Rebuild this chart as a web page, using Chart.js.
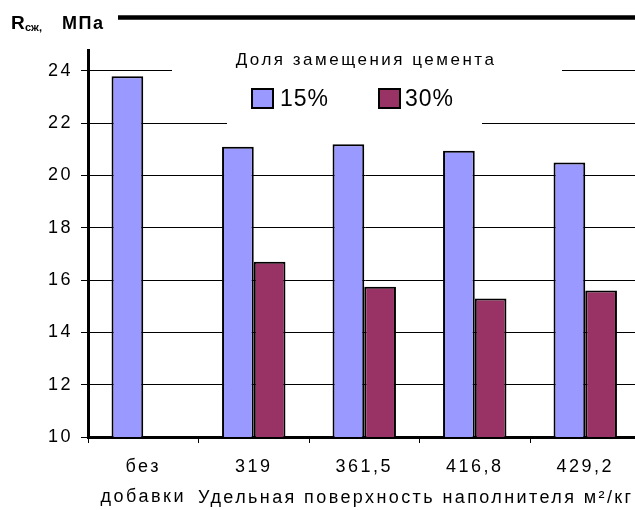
<!DOCTYPE html>
<html>
<head>
<meta charset="utf-8">
<script src="https://cdn.jsdelivr.net/npm/chart.js@4/dist/chart.umd.min.js"></script>
<style>
  html, body { margin: 0; padding: 0; overflow: hidden; background: #fff; }
  #wrap { width: 645px; height: 510px; }
</style>
</head>
<body>
<div id="wrap"><canvas id="c" width="645" height="510"></canvas></div>
<script>
// Прочность на сжатие при разной доле замещения цемента
const categories = [['без', 'добавки'], '319', '361,5', '416,8', '429,2'];
const seriesNames = ['15%', '30%'];
const values15 = [23.8, 21.1, 21.2, 20.95, 20.5];
const values30 = [null, 16.7, 15.75, 15.3, 15.6];
const yTicks = [10, 12, 14, 16, 18, 20, 22, 24];
const legendTitle = 'Доля замещения цемента';
const xTitle = 'Удельная поверхность наполнителя м²/кг';
const yTitleMain = 'R';
const yTitleSub = 'сж,';
const yTitleUnit = 'МПа';

const FONT = "'Liberation Sans', Arial, sans-serif";
const colors = ['#9999FF', '#993366'];

const decor = {
  id: 'decor',
  beforeDraw(chart) {
    chart.ctx.letterSpacing = '2.5px';
  },
  beforeDatasetsDraw(chart) {
    const ctx = chart.ctx;
    ctx.save();
    // белая подложка легенды поверх сетки
    ctx.fillStyle = '#fff';
    ctx.fillRect(172, 44, 390, 34);
    ctx.fillRect(227, 78, 255, 49);
    // заголовок легенды
    ctx.fillStyle = '#000';
    ctx.font = '17px ' + FONT;
    ctx.letterSpacing = '2.5px';
    ctx.textAlign = 'center';
    ctx.textBaseline = 'alphabetic';
    ctx.fillText(legendTitle, 366, 65);
    // элементы легенды
    const items = [{ box: 252, text: 280 }, { box: 379, text: 405 }];
    chart.data.datasets.forEach((ds, i) => {
      const it = items[i];
      ctx.fillStyle = ds.backgroundColor;
      ctx.fillRect(it.box, 89, 21, 19);
      ctx.lineWidth = 2;
      ctx.strokeStyle = '#000';
      ctx.strokeRect(it.box, 89, 21, 19);
      ctx.fillStyle = '#000';
      ctx.font = '23px ' + FONT;
      ctx.letterSpacing = '1px';
      ctx.textAlign = 'left';
      ctx.fillText(ds.label, it.text, 105.5);
    });
    ctx.restore();
  },
  afterDraw(chart) {
    const ctx = chart.ctx;
    ctx.save();
    ctx.fillStyle = '#000';
    ctx.textAlign = 'left';
    ctx.textBaseline = 'alphabetic';
    // подпись оси значений
    ctx.letterSpacing = '0px';
    ctx.font = 'bold 19px ' + FONT;
    ctx.fillText(yTitleMain, 11, 29);
    ctx.font = 'bold 11px ' + FONT;
    ctx.fillText(yTitleSub, 25, 31);
    ctx.letterSpacing = '1.5px';
    ctx.font = 'bold 18px ' + FONT;
    ctx.fillText(yTitleUnit, 62, 29);
    // верхняя линия
    ctx.strokeStyle = '#000';
    ctx.lineWidth = 4.5;
    ctx.beginPath();
    ctx.moveTo(118, 17.5);
    ctx.lineTo(645, 17.5);
    ctx.stroke();
    // подпись оси категорий
    ctx.font = '18px ' + FONT;
    ctx.letterSpacing = '2.4px';
    ctx.fillText(xTitle, 198, 503);
    ctx.restore();
  }
};

new Chart(document.getElementById('c'), {
  type: 'bar',
  data: {
    labels: categories,
    datasets: [
      { label: seriesNames[0], data: values15, backgroundColor: colors[0], borderColor: '#000', borderWidth: 2 },
      { label: seriesNames[1], data: values30, backgroundColor: colors[1], borderColor: '#000', borderWidth: 2 }
    ]
  },
  options: {
    responsive: false,
    devicePixelRatio: 1,
    animation: false,
    categoryPercentage: 0.574,
    barPercentage: 1,
    layout: { padding: { left: 0, top: 50, right: 4.5, bottom: 0 } },
    plugins: {
      legend: { display: false },
      title: { display: false },
      tooltip: { enabled: false }
    },
    scales: {
      x: {
        afterFit(s) { s.height = 73; },
        offset: true,
        grid: { display: true, drawOnChartArea: false, drawTicks: true, tickLength: 6, color: '#000', lineWidth: 1, offset: true },
        border: { display: true, color: '#000', width: 3 },
        ticks: {
          color: '#000',
          font: { family: FONT, size: 18, lineHeight: 1.667 },
          padding: 9,
          maxRotation: 0,
          autoSkip: false
        }
      },
      y: {
        min: 10,
        max: 24.8,
        afterFit(s) { s.width = 88; },
        afterBuildTicks(s) { s.ticks = yTicks.map(v => ({ value: v })); },
        grid: { color: '#000', lineWidth: 1, tickLength: 7, drawTicks: true },
        border: { display: true, color: '#000', width: 3 },
        ticks: {
          color: '#000',
          font: { family: FONT, size: 18 },
          padding: 8
        }
      }
    }
  },
  plugins: [decor]
});
</script>
</body>
</html>
